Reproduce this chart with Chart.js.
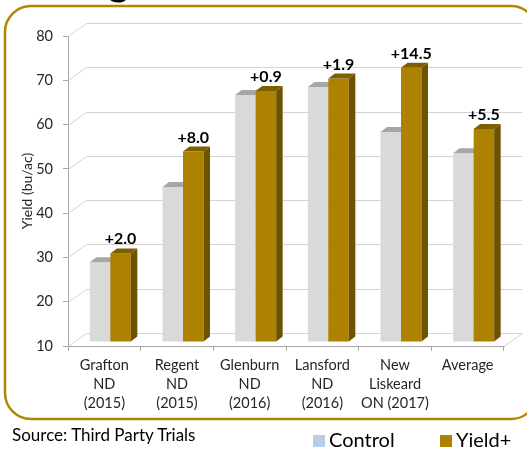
<!DOCTYPE html>
<html>
<head>
<meta charset="utf-8">
<script src="https://cdn.jsdelivr.net/npm/chart.js@4/dist/chart.umd.min.js"></script>
<style>
  body { margin: 0; width: 527px; height: 450px; overflow: hidden; background: #fff; position: relative; font-family: Lato, sans-serif; }
  canvas { position: absolute; left: 0; top: 0; }
  .title { position: absolute; left: 108px; top: -44px; font-size: 40px; font-weight: bold; color: #000; }
  .source { position: absolute; left: 12px; top: 424px; font-size: 17px; color: #000; }
  .legend { position: absolute; top: 427px; font-size: 20px; color: #000; line-height: 24px; }
  .legend span.box { display: inline-block; width: 12px; height: 12px; margin-right: 4px; vertical-align: 0px; }
</style>
</head>
<body>
<div class="title">g</div>
<canvas id="myChart" width="527" height="450"></canvas>
<div class="source">Source: Third Party Trials</div>
<div class="legend" style="left:313px"><span class="box" style="background:#b9cde5"></span>Control</div>
<div class="legend" style="left:440px"><span class="box" style="background:#ad8200"></span>Yield+</div>
<script>
const categories = [
    ['Grafton', 'ND', '(2015)'],
    ['Regent', 'ND', '(2015)'],
    ['Glenburn', 'ND', '(2016)'],
    ['Lansford', 'ND', '(2016)'],
    ['New', 'Liskeard', 'ON (2017)'],
    ['Average']
];
const control = [28.0, 45.0, 65.8, 67.6, 57.4, 52.6];
const yieldPlus = [30.0, 53.0, 66.7, 69.5, 71.9, 58.1];
const gains = ['+2.0', '+8.0', '+0.9', '+1.9', '+14.5', '+5.5'];
const yTicks = [10, 20, 30, 40, 50, 60, 70, 80];

// 3d look: back wall offset, bar offset, bar face depth
const wall = { dx: 18.5, dy: 13 };
const shift = { x: 6, y: -4 };
const face = { dx: 6.5, dy: 5 };
const colors = [
    { front: '#d9d9d9', top: '#a6a6a6', side: '#bfbfbf' },
    { front: '#ad8200', top: '#7d5e00', side: '#6e5200' }
];

Chart.defaults.font.family = 'Lato';

const boxPlugin = {
    id: 'box',
    beforeDraw(chart) {
        const ctx = chart.ctx;
        ctx.save();
        ctx.strokeStyle = '#b38600';
        ctx.lineWidth = 2.5;
        ctx.beginPath();
        ctx.roundRect(5, 6, 532, 413, 26);
        ctx.stroke();
        ctx.restore();
    }
};

const threeD = {
    id: 'threeD',
    beforeDatasetsDraw(chart) {
        const { ctx, chartArea: a, scales: { y } } = chart;
        ctx.save();
        ctx.strokeStyle = '#d4d4d4';
        ctx.lineWidth = 1;
        yTicks.forEach(v => {
            const py = Math.round(y.getPixelForValue(v)) + 0.5;
            ctx.beginPath();
            ctx.moveTo(a.left, py);
            ctx.lineTo(a.left + wall.dx, py - wall.dy);
            ctx.lineTo(a.right + wall.dx, py - wall.dy);
            ctx.stroke();
        });
        const by = Math.round(y.getPixelForValue(10)) + 0.5;
        ctx.beginPath();
        ctx.moveTo(a.right, by);
        ctx.lineTo(a.right + wall.dx, by - wall.dy);
        ctx.stroke();

        for (let i = 0; i < categories.length; i++) {
            [0, 1].forEach(d => {
                const el = chart.getDatasetMeta(d).data[i];
                const { x, y: top, base, width } = el.getProps(['x', 'y', 'base', 'width'], true);
                const l = x - width / 2 + shift.x, r = x + width / 2 + shift.x;
                const t = top + shift.y, b = Math.min(base, a.bottom) + shift.y;
                const c = colors[d];
                ctx.fillStyle = c.front;
                ctx.fillRect(l, t, r - l, b - t);
                ctx.fillStyle = c.top;
                ctx.beginPath();
                ctx.moveTo(l, t);
                ctx.lineTo(l + face.dx, t - face.dy);
                ctx.lineTo(r + face.dx, t - face.dy);
                ctx.lineTo(r, t);
                ctx.closePath();
                ctx.fill();
                ctx.fillStyle = c.side;
                ctx.beginPath();
                ctx.moveTo(r, t);
                ctx.lineTo(r + face.dx, t - face.dy);
                ctx.lineTo(r + face.dx, b - face.dy);
                ctx.lineTo(r, b);
                ctx.closePath();
                ctx.fill();
                if (d === 1) {
                    ctx.fillStyle = '#000';
                    ctx.font = 'bold 16px Lato';
                    ctx.textAlign = 'center';
                    ctx.textBaseline = 'alphabetic';
                    ctx.fillText(gains[i], (l + r) / 2, t - face.dy - 4);
                }
            });
        }
        ctx.restore();
        return false;
    }
};

const ctx = document.getElementById('myChart').getContext('2d');
const chart = new Chart(ctx, {
    type: 'bar',
    data: {
        labels: categories,
        datasets: [
            { label: 'Control', data: control, base: 10, backgroundColor: colors[0].front },
            { label: 'Yield+', data: yieldPlus, base: 10, backgroundColor: colors[1].front }
        ]
    },
    options: {
        responsive: false,
        animation: false,
        layout: { padding: { left: 0, top: 36, right: 23, bottom: 0 } },
        datasets: { bar: { categoryPercentage: 0.564, barPercentage: 1 } },
        plugins: { legend: { display: false }, tooltip: { enabled: false } },
        scales: {
            x: {
                grid: { drawOnChartArea: false, tickLength: 5, color: '#a6a6a6' },
                border: { color: '#a6a6a6' },
                ticks: { color: '#262626', font: { size: 14.5, lineHeight: 1.3 }, padding: 5, maxRotation: 0, autoSkip: false },
                afterFit(s) { s.height = 104; }
            },
            y: {
                min: 10,
                max: 80,
                grid: { drawOnChartArea: false, tickLength: 5, color: '#a6a6a6' },
                border: { color: '#a6a6a6' },
                ticks: { stepSize: 10, color: '#262626', font: { size: 14.5 }, padding: 10 },
                title: { display: true, text: 'Yield (bu/ac)', color: '#262626', font: { size: 14 }, padding: { top: 19, bottom: 0 } },
                afterFit(s) { s.width = 68; }
            }
        }
    },
    plugins: [boxPlugin, threeD]
});
</script>
</body>
</html>
